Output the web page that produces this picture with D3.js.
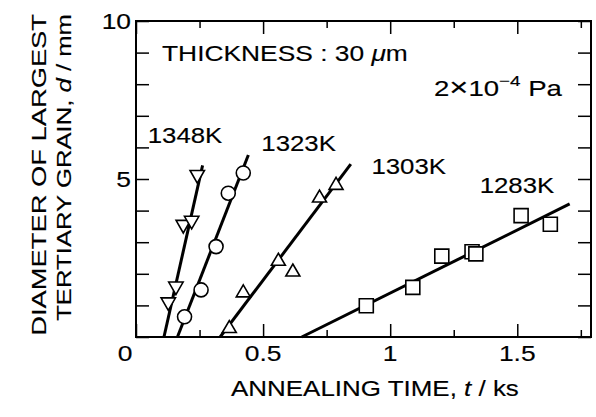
<!DOCTYPE html>
<html>
<head>
<meta charset="utf-8">
<script src="https://cdn.jsdelivr.net/npm/d3@7"></script>
<style>
  body { margin: 0; background: #fff; }
  svg { display: block; }
  text { font-family: "Liberation Sans", Arial, Helvetica, sans-serif; fill: #000; stroke: #000; stroke-width: 0.15px; }
</style>
</head>
<body>
<div id="chart"></div>
<script>
// values: annealing time t (ks) vs grain size d (mm)
var series = ["1348K", "1323K", "1303K", "1283K"];
var t1348 = [0.127, 0.157, 0.186, 0.219, 0.241];
var d1348 = [1.04, 1.54, 3.49, 3.62, 5.07];
var t1323 = [0.191, 0.256, 0.315, 0.363, 0.422];
var d1323 = [0.64, 1.49, 2.86, 4.55, 5.19];
var t1303 = [0.367, 0.422, 0.560, 0.617, 0.722, 0.787];
var d1303 = [0.33, 1.46, 2.46, 2.12, 4.46, 4.86];
var t1283 = [0.906, 1.089, 1.203, 1.322, 1.337, 1.515, 1.630];
var d1283 = [0.99, 1.57, 2.56, 2.70, 2.63, 3.84, 3.57];
// fitted straight lines, start and end
var fitT = [[0.110, 0.262], [0.163, 0.442], [0.331, 0.845], [0.652, 1.706]];
var fitD = [[0, 5.43], [0, 5.76], [0, 5.47], [0, 4.21]];

var xMajor = [0, 0.5, 1, 1.5];
var xMinor = [0.25, 0.75, 1.25, 1.75];
var xLabels = ["0", "0.5", "1", "1.5"];
var yTicks = [0, 1, 2, 3, 4, 5, 6, 7, 8, 9, 10];
var yLabelVals = [5, 10];
var yLabels = ["5", "10"];

var W = 596, H = 417;
var box = {left: 136, right: 591, top: 21, bottom: 337};

var svg = d3.select("#chart").append("svg")
  .attr("width", W)
  .attr("height", H);

var x = d3.scaleLinear().domain([0, 1.79]).range([box.left, box.right]);
var y = d3.scaleLinear().domain([0, 10]).range([box.bottom, box.top]);

// text helper: stretch glyphs horizontally (figure uses a wide face)
function label(parent, px, py, anchor, size, build, width, rot) {
  var g = parent.append("g")
    .attr("transform", "translate(" + px + "," + py + ")" + (rot ? " rotate(" + rot + ")" : ""));
  var t = g.append("text")
    .attr("text-anchor", anchor)
    .style("font-size", size + "px");
  build(t);
  var w = t.node().getBBox().width;
  var sx = width ? width / w : 1.2;
  t.attr("transform", "scale(" + sx + ",1)");
  return t;
}

// ticks, inward on all four sides
function noDomain(g) { g.select(".domain").remove(); g.selectAll("line").attr("stroke", "#000").attr("stroke-width", 1.5); }

svg.append("g").attr("transform", "translate(0," + box.bottom + ")")
  .call(d3.axisBottom(x).tickValues(xMajor).tickSize(-13).tickFormat("")).call(noDomain);
svg.append("g").attr("transform", "translate(0," + box.bottom + ")")
  .call(d3.axisBottom(x).tickValues(xMinor).tickSize(-7).tickFormat("")).call(noDomain);
svg.append("g").attr("transform", "translate(0," + box.top + ")")
  .call(d3.axisTop(x).tickValues(xMajor).tickSize(-13).tickFormat("")).call(noDomain);
svg.append("g").attr("transform", "translate(0," + box.top + ")")
  .call(d3.axisTop(x).tickValues(xMinor).tickSize(-7).tickFormat("")).call(noDomain);
svg.append("g").attr("transform", "translate(" + box.left + ",0)")
  .call(d3.axisLeft(y).tickValues(yTicks).tickSize(-13).tickFormat("")).call(noDomain);
svg.append("g").attr("transform", "translate(" + box.right + ",0)")
  .call(d3.axisRight(y).tickValues(yTicks).tickSize(-13).tickFormat("")).call(noDomain);

svg.append("rect")
  .attr("x", box.left).attr("y", box.top)
  .attr("width", box.right - box.left).attr("height", box.bottom - box.top)
  .attr("fill", "none").attr("stroke", "#000").attr("stroke-width", 2);

// tick labels
xMajor.forEach(function (v, i) {
  var dx = v === 0 ? -11 : 0;
  label(svg, x(v) + dx, 361, "middle", 22, function (t) { t.text(xLabels[i]); });
});
yLabelVals.forEach(function (v, i) {
  label(svg, 131, y(v) + 8, "end", 22, function (t) { t.text(yLabels[i]); });
});

// axis titles
label(svg, 231, 396, "start", 22, function (t) {
  t.append("tspan").text("ANNEALING TIME,  ");
  t.append("tspan").style("font-style", "italic").text("t");
  t.append("tspan").text(" / ks");
}, 288);
label(svg, 46, 14, "end", 21, function (t) {
  t.text("DIAMETER OF LARGEST");
}, 322, -90);
label(svg, 71, 14, "end", 21, function (t) {
  t.append("tspan").text("TERTIARY GRAIN,  ");
  t.append("tspan").style("font-style", "italic").text("d");
  t.append("tspan").text(" / mm");
}, 307, -90);

// fitted lines
var line = d3.line().x(function (p) { return x(p[0]); }).y(function (p) { return y(p[1]); });
svg.append("g").selectAll("path")
  .data(series)
  .enter().append("path")
  .attr("d", function (s, i) { return line([[fitT[i][0], fitD[i][0]], [fitT[i][1], fitD[i][1]]]); })
  .attr("fill", "none")
  .attr("stroke", "#000")
  .attr("stroke-width", 3);

// markers
var shapes = {
  "1348K": "M0,6.3L7.2,-6.3L-7.2,-6.3Z",
  "1323K": "M7,0A7,7 0 1,1 -7,0A7,7 0 1,1 7,0Z",
  "1303K": "M0,-6L7,6L-7,6Z",
  "1283K": "M-7,-7H7V7H-7Z"
};
var pts = [
  [t1348, d1348],
  [t1323, d1323],
  [t1303, d1303],
  [t1283, d1283]
];
series.forEach(function (s, i) {
  var rows = pts[i][0].map(function (t, j) { return [t, pts[i][1][j]]; });
  svg.append("g").selectAll("path")
    .data(rows)
    .enter().append("path")
    .attr("transform", function (p) { return "translate(" + x(p[0]) + "," + y(p[1]) + ")"; })
    .attr("d", shapes[s])
    .attr("fill", "#fff")
    .attr("stroke", "#000")
    .attr("stroke-width", 1.6);
});

// series labels (anchored at data positions)
var labelT = [0.046, 0.493, 0.926, 1.352];
var labelD = [6.15, 5.89, 5.15, 4.57];
series.forEach(function (s, i) {
  label(svg, x(labelT[i]), y(labelD[i]), "start", 22, function (t) { t.text(s); }, 75);
});

// annotations
label(svg, 162, 61, "start", 22, function (t) {
  t.append("tspan").text("THICKNESS : 30 ");
  t.append("tspan").style("font-style", "italic").text("\u03bc");
  t.append("tspan").text("m");
}, 246);
label(svg, 434, 96, "start", 22, function (t) {
  t.append("tspan").text("2");
  t.append("tspan").style("font-size", "26px").text("\u00d7");
  t.append("tspan").text("10");
  t.append("tspan").attr("dy", -10).style("font-size", "15px").text("\u22124");
  t.append("tspan").attr("dy", 10).text(" Pa");
}, 129);
</script>
</body>
</html>
